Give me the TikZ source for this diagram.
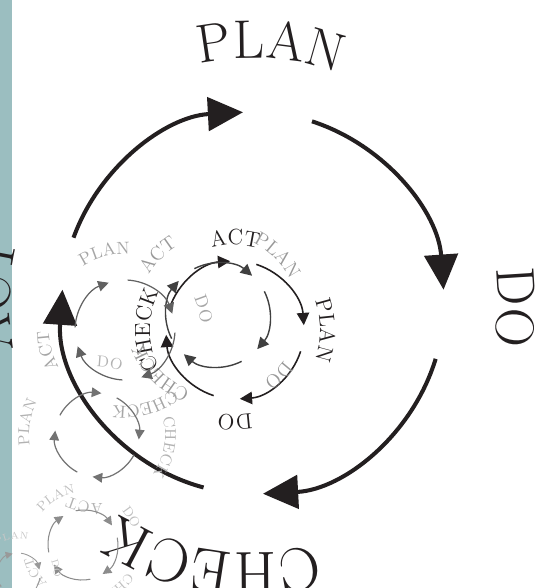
\documentclass[tikz,border=0pt]{standalone}
\usepackage{tikz}
\usetikzlibrary{arrows.meta,decorations.text}
\definecolor{Ink}{rgb}{0.137, 0.122, 0.125}
\definecolor{Teal}{rgb}{0.608, 0.745, 0.753}

% one curved label of the current wheel: #1 angle offset, #2 word
\newcommand{\wheelword}[2]{%
  \pgfmathsetmacro\wa{\crot+#1+45}%
  \pgfmathsetmacro\wb{\crot+#1-45}%
  \path[decorate, decoration={text along path, text align=center,
      text color=\clab, text={|\fontsize{\cfs}{\cfs}\selectfont|#2}}]
    ([shift={(\cx,\cy)}]\wa:\cl) arc[start angle=\wa, end angle=\wb, radius=\cl];
}
% one arrow arc of the current wheel, ending just past the label at #1
\newcommand{\wheelarc}[1]{%
  \pgfmathsetmacro\wa{\crot+#1+72}%
  \pgfmathsetmacro\wb{\crot+#1+4}%
  \draw[\carc, line width=\clw pt, -{Triangle[length=\cal pt, width=\cal pt]}]
    ([shift={(\cx,\cy)}]\wa:\cr) arc[start angle=\wa, end angle=\wb, radius=\cr];
}
\newcommand{\drawwheel}{%
  \wheelarc{0}\wheelarc{-90}\wheelarc{-180}\wheelarc{-270}%
  \wheelword{0}{PLAN}\wheelword{-90}{DO}\wheelword{-180}{CHECK}\wheelword{-270}{ACT}%
}

\begin{document}
\begin{tikzpicture}[x=0.02cm, y=0.02cm]

% Canvas, 537 x 588 px, y runs downwards as negative
\useasboundingbox (0,0) rectangle (537,-588);
\clip (0,0) rectangle (537,-588);
\fill[Teal] (0,0) rectangle (12,-588);

% ============================================================
% BIG WHEEL
% ============================================================
\def\cx{253}
\def\cy{-303}
\def\cr{191}

\draw[Ink, line width=2.3pt, -{Triangle[length=20pt, width=19pt]}]
  ([shift={(\cx,\cy)}]160:\cr) arc[start angle=160, end angle=93, radius=\cr];
\draw[Ink, line width=2.3pt, -{Triangle[length=20pt, width=19pt]}]
  ([shift={(\cx,\cy)}]72:\cr) arc[start angle=72, end angle=4, radius=\cr];
\draw[Ink, line width=2.3pt, -{Triangle[length=20pt, width=19pt]}]
  ([shift={(\cx,\cy)}]-17:\cr) arc[start angle=-17, end angle=-87, radius=\cr];
\draw[Ink, line width=2.3pt, -{Triangle[length=20pt, width=19pt]}]
  ([shift={(\cx,\cy)}]-105:\cr) arc[start angle=-105, end angle=-184, radius=\cr];

% big labels
\path[decorate, decoration={text along path, text align=center, text color=Ink,
    text={|\fontsize{31}{31}\selectfont|PLAN}}]
  ([shift={(\cx,\cy)}]121:245) arc[start angle=121, end angle=51, radius=245];
\path[decorate, decoration={text along path, text align=center, text color=Ink,
    text={|\fontsize{31}{31}\selectfont|DO}}]
  ([shift={(\cx,\cy)}]34:245) arc[start angle=34, end angle=-36, radius=245];
\path[decorate, decoration={text along path, text align=center, text color=Ink,
    text={|\fontsize{35}{35}\selectfont|CHECK}}]
  ([shift={(\cx,\cy)}]-56:250) arc[start angle=-56, end angle=-142, radius=250];
\path[decorate, decoration={text along path, text align=center, text color=Ink,
    text={|\fontsize{31}{31}\selectfont|ACT}}]
  ([shift={(\cx,\cy)}]213:243) arc[start angle=213, end angle=143, radius=243];

% ============================================================
% SMALL WHEELS (spiralling down to the lower left)
% ============================================================
% wheel 1
\def\cx{235}\def\cy{-330}\def\cr{69}\def\cl{85}\def\crot{0}
\def\carc{Ink}\def\clab{Ink}\def\clw{0.9}\def\cal{7}\def\cfs{12.5}
\drawwheel

% wheel 2
\def\cx{218}\def\cy{-315}\def\cr{52}\def\cl{80}\def\crot{45}
\def\carc{black!75}\def\clab{black!40}\def\clw{0.8}\def\cal{6.5}\def\cfs{11}
\drawwheel

% wheel 3
\def\cx{125}\def\cy{-330}\def\cr{50}\def\cl{76}\def\crot{105}
\def\carc{black!62}\def\clab{black!35}\def\clw{0.7}\def\cal{6}\def\cfs{10}
\drawwheel

% wheel 4
\def\cx{97}\def\cy{-435}\def\cr{42}\def\cl{68}\def\crot{170}
\def\carc{black!55}\def\clab{black!30}\def\clw{0.7}\def\cal{5.5}\def\cfs{9}
\drawwheel

% wheel 5
\def\cx{83}\def\cy{-545}\def\cr{35}\def\cl{52}\def\crot{120}
\def\carc{black!45}\def\clab{black!25}\def\clw{0.6}\def\cal{5}\def\cfs{7.5}
\drawwheel

% wheel 6
\def\cx{18}\def\cy{-575}\def\cr{22}\def\cl{36}\def\crot{100}
\def\carc{black!40}\def\clab{black!22}\def\clw{0.5}\def\cal{4}\def\cfs{5.5}
\drawwheel

\end{tikzpicture}
\end{document}
